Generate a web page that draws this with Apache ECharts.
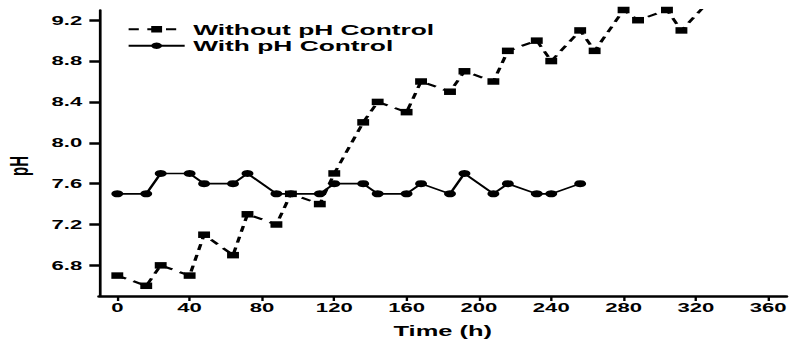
<!DOCTYPE html>
<html>
<head>
<meta charset="utf-8">
<script src="https://cdn.jsdelivr.net/npm/echarts@6/dist/echarts.min.js"></script>
<style>
  html, body { margin: 0; padding: 0; background: #fff; }
  #wrap { width: 790px; height: 345px; overflow: hidden; position: relative; }
  #chart { width: 465px; height: 345px; transform: scaleX(1.699); transform-origin: 0 0; }
</style>
</head>
<body>
<div id="wrap"><div id="chart"></div></div>
<script>
// Data
const timeWithout = [0, 16, 24, 40, 48, 64, 72, 88, 96, 112, 120, 136, 144, 160, 168, 184, 192, 208, 216, 232, 240, 256, 264, 280, 288, 304, 312, 328];
const phWithout   = [6.7, 6.6, 6.8, 6.7, 7.1, 6.9, 7.3, 7.2, 7.5, 7.4, 7.7, 8.2, 8.4, 8.3, 8.6, 8.5, 8.7, 8.6, 8.9, 9.0, 8.8, 9.1, 8.9, 9.3, 9.2, 9.3, 9.1, 9.4];
const timeWith = [0, 16, 24, 40, 48, 64, 72, 88, 96, 112, 120, 136, 144, 160, 168, 184, 192, 208, 216, 232, 240, 256];
const phWith   = [7.5, 7.5, 7.7, 7.7, 7.6, 7.6, 7.7, 7.5, 7.5, 7.5, 7.6, 7.6, 7.5, 7.5, 7.6, 7.5, 7.7, 7.5, 7.6, 7.5, 7.5, 7.6];
const xTicks = [0, 40, 80, 120, 160, 200, 240, 280, 320, 360];
const yTicks = [6.8, 7.2, 7.6, 8.0, 8.4, 8.8, 9.2];
const seriesNames = ['Without pH Control', 'With pH Control'];

const pairs = (xs, ys) => xs.map((x, i) => [x, ys[i]]);
const FONT = '"Liberation Sans", Arial, sans-serif';

const chart = echarts.init(document.getElementById('chart'), null, { renderer: 'svg' });
chart.setOption({
  animation: false,
  backgroundColor: '#fff',
  grid: { left: 58.4, right: 2.2, top: 10, bottom: 49, containLabel: false, outerBoundsMode: 'none' },
  legend: {
    orient: 'vertical', left: 74.7, top: 21, itemWidth: 33, itemHeight: 8, itemGap: 0, padding: 0,
    textStyle: { fontFamily: FONT, fontWeight: 'bold', fontSize: 15.5, color: '#000', lineHeight: 16.5 },
    data: seriesNames
  },
  xAxis: {
    type: 'value', min: -10, max: 370, name: 'Time (h)', nameLocation: 'middle', nameGap: 27,
    nameTextStyle: { fontFamily: FONT, fontWeight: 'bold', fontSize: 15, color: '#000' },
    axisLine: { onZero: false, lineStyle: { color: '#000', width: 2.5 } },
    axisTick: { show: true, inside: false, length: 5, customValues: xTicks, lineStyle: { color: '#000', width: 1.4 } },
    axisLabel: { customValues: xTicks, margin: 5, fontFamily: FONT, fontWeight: 'bold', fontSize: 13, color: '#000' },
    splitLine: { show: false }
  },
  yAxis: {
    type: 'value', min: 6.5, max: 9.3, name: 'pH', nameLocation: 'middle', nameGap: 40, nameRotate: 90,
    nameTextStyle: { fontFamily: FONT, fontWeight: 'bold', fontSize: 15, color: '#000', padding: [0, 26, 0, 0] },
    axisLine: { onZero: false, lineStyle: { color: '#000', width: 1.6 } },
    axisTick: { show: true, inside: false, length: 5.8, customValues: yTicks, lineStyle: { color: '#000', width: 2.5 } },
    axisLabel: { customValues: yTicks, margin: 10, fontFamily: FONT, fontWeight: 'bold', fontSize: 13, color: '#000',
      formatter: v => Number(v).toFixed(1) },
    splitLine: { show: false }
  },
  series: [
    { name: seriesNames[0], type: 'line', data: pairs(timeWithout, phWithout), clip: true, symbol: 'rect', symbolSize: [7, 6.5],
      itemStyle: { color: '#000' }, lineStyle: { color: '#000', width: 2, type: [6, 5] } },
    { name: seriesNames[1], type: 'line', data: pairs(timeWith, phWith), clip: true, symbol: 'circle', symbolSize: 7,
      itemStyle: { color: '#000' }, lineStyle: { color: '#000', width: 1.6, type: 'solid' } }
  ]
});
</script>
</body>
</html>
